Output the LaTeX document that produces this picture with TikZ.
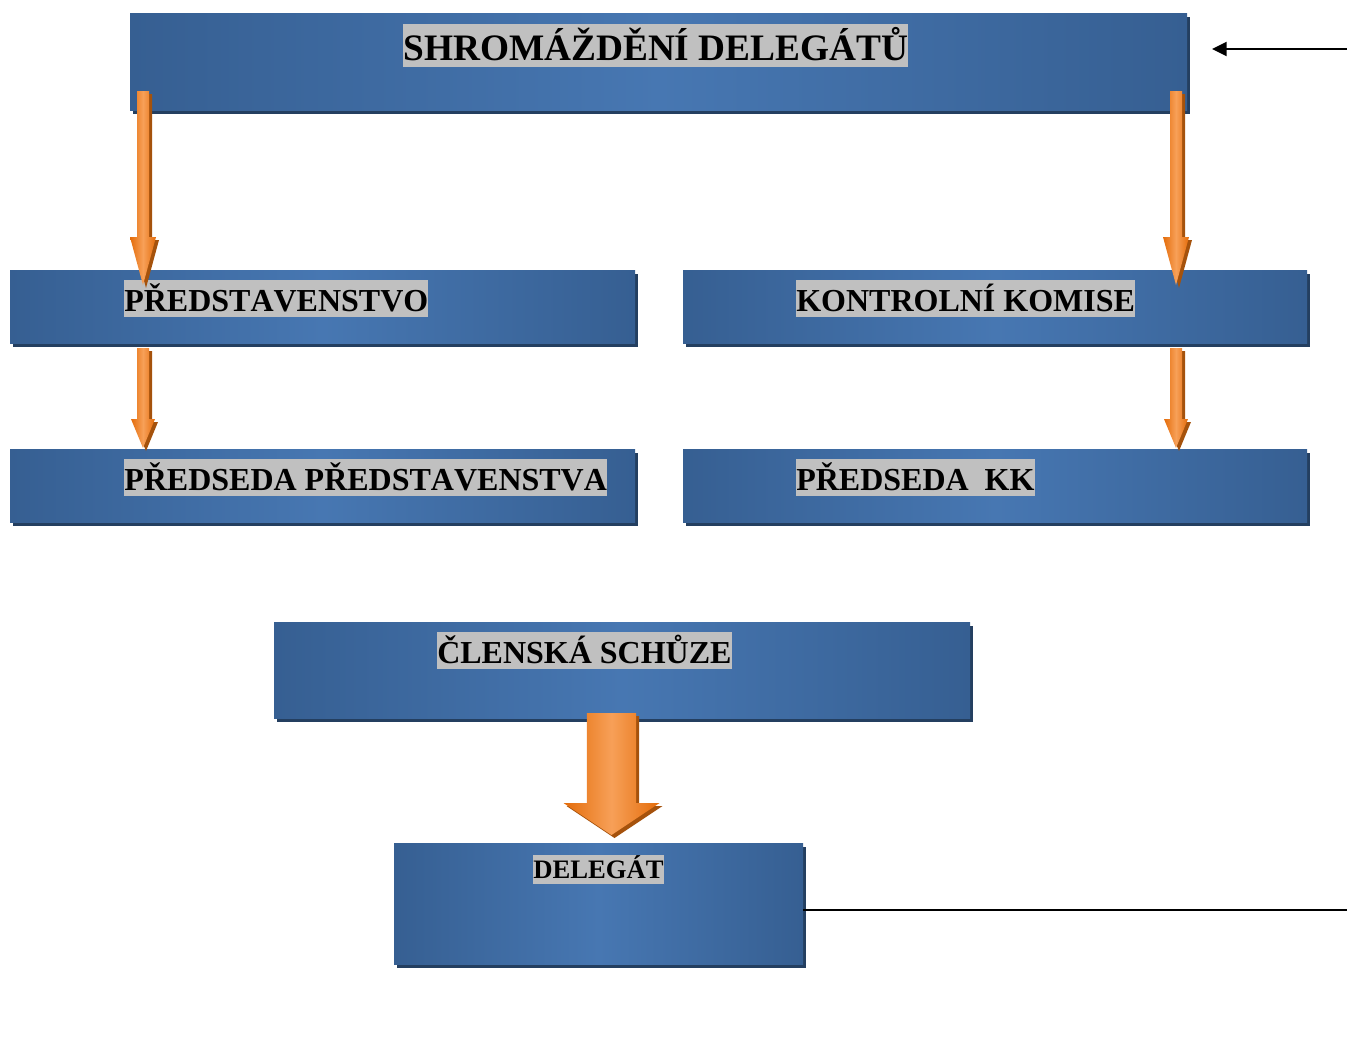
\documentclass[tikz,border=0pt]{standalone}
\usepackage{fontspec}
\setmainfont{Liberation Serif}[Kerning=Off]
\usetikzlibrary{shadows,calc,arrows.meta}
\definecolor{boxdark}{HTML}{365F92}
\definecolor{boxlight}{HTML}{4777B2}
\definecolor{boxshadow}{HTML}{243F60}
\definecolor{ordark}{HTML}{E46C0A}
\definecolor{orlight}{HTML}{F7A058}
\definecolor{orshadow}{HTML}{A5520C}
\definecolor{labelgray}{HTML}{C0C0C0}
\newcommand\blockarrow[5]{%
 \fill[orshadow] let \p1=(#1), \p2=(#2) in
  (\x1-#3+2.25pt,\y1-2.25pt) -- (\x1+#3+2.25pt,\y1-2.25pt) -- (\x1+#3+2.25pt,\y2+#5-2.25pt)
  -- (\x1+#4+2.25pt,\y2+#5-2.25pt) -- (\x2+2.25pt,\y2-2.25pt) -- (\x1-#4+2.25pt,\y2+#5-2.25pt)
  -- (\x1-#3+2.25pt,\y2+#5-2.25pt) -- cycle;
 \shade[left color=ordark,right color=ordark,middle color=orlight] let \p1=(#1), \p2=(#2) in
  (\x1-#3,\y1) -- (\x1+#3,\y1) -- (\x1+#3,\y2+#5) -- (\x1+#4,\y2+#5) -- (\x2,\y2)
  -- (\x1-#4,\y2+#5) -- (\x1-#3,\y2+#5) -- cycle;
}
\tikzset{
 box/.style={shade,left color=boxdark,right color=boxdark,middle color=boxlight,
   draw=none,inner sep=0pt,
   drop shadow={shadow xshift=2.25pt,shadow yshift=-3pt,fill=boxshadow,opacity=1}},
 lbl/.style={fill=labelgray,inner xsep=0pt,inner ysep=0pt,anchor=west,
   font=\bfseries\fontsize{24}{28}\selectfont,text height=23.25pt,text depth=4.5pt},
 thin/.style={line width=1.5pt}
}
\begin{document}
\begin{tikzpicture}[x=0.75pt,y=-0.75pt]
\useasboundingbox (0,0) rectangle (1347,1050);
% boxes
\node[box,minimum width=792.75pt,minimum height=72.75pt] (sd) at (658.5,61.5) {};
\node[box,minimum width=468.75pt,minimum height=54.75pt] (pr) at (322.5,306.5) {};
\node[box,minimum width=468pt,minimum height=54.75pt] (kk) at (995,306.5) {};
\node[box,minimum width=468.75pt,minimum height=54.75pt] (pp) at (322.5,485.5) {};
\node[box,minimum width=468pt,minimum height=54.75pt] (pk) at (995,485.5) {};
\node[box,minimum width=522pt,minimum height=72pt] (cs) at (622,670) {};
\node[box,minimum width=306.75pt,minimum height=90.75pt] (de) at (598.5,903.5) {};
% labels
\node[lbl,font=\bfseries\fontsize{28}{32}\selectfont,text height=27pt,text depth=5.25pt] (lsd) at (403,45.5) {SHROMÁŽDĚNÍ DELEGÁTŮ};
\node[lbl] (lpr) at (124,298.5) {PŘEDSTAVENSTVO};
\node[lbl] (lkk) at (796,298.5) {KONTROLNÍ KOMISE};
\node[lbl] (lpp) at (124,477.5) {PŘEDSEDA PŘEDSTAVENSTVA};
\node[lbl] (lpk) at (796,477.5) {PŘEDSEDA\ \ KK};
\node[lbl] (lcs) at (437,650.5) {ČLENSKÁ SCHŮZE};
\node[lbl,font=\bfseries\fontsize{20}{24}\selectfont,text height=17.75pt,text depth=4pt] (lde) at (533,869.5) {DELEGÁT};
% block arrows
\coordinate (a1s) at (143,91);   \coordinate (a1e) at (143,285);
\coordinate (a2s) at (1176,91);  \coordinate (a2e) at (1176,285);
\coordinate (a3s) at (143,348);  \coordinate (a3e) at (143,448);
\coordinate (a4s) at (1176,348); \coordinate (a4e) at (1176,448);
\coordinate (a5s) at (611.5,713); \coordinate (a5e) at (611.5,835);
\blockarrow{a1s}{a1e}{4.5pt}{9.75pt}{36pt}
\blockarrow{a2s}{a2e}{4.5pt}{9.75pt}{36pt}
\blockarrow{a3s}{a3e}{4.5pt}{9pt}{21.75pt}
\blockarrow{a4s}{a4e}{4.5pt}{9pt}{21.75pt}
\blockarrow{a5s}{a5e}{18.4pt}{36pt}{24pt}
% thin connectors
\coordinate (inR) at (1347,49);
\coordinate (inT) at (1212,49);
\draw[thin,-{Triangle[length=11pt,width=10.5pt]}] (inR) -- (inT);
\coordinate (outR) at (1347,910);
\draw[thin] (de.east |- outR) -- (outR);
\end{tikzpicture}
\end{document}
